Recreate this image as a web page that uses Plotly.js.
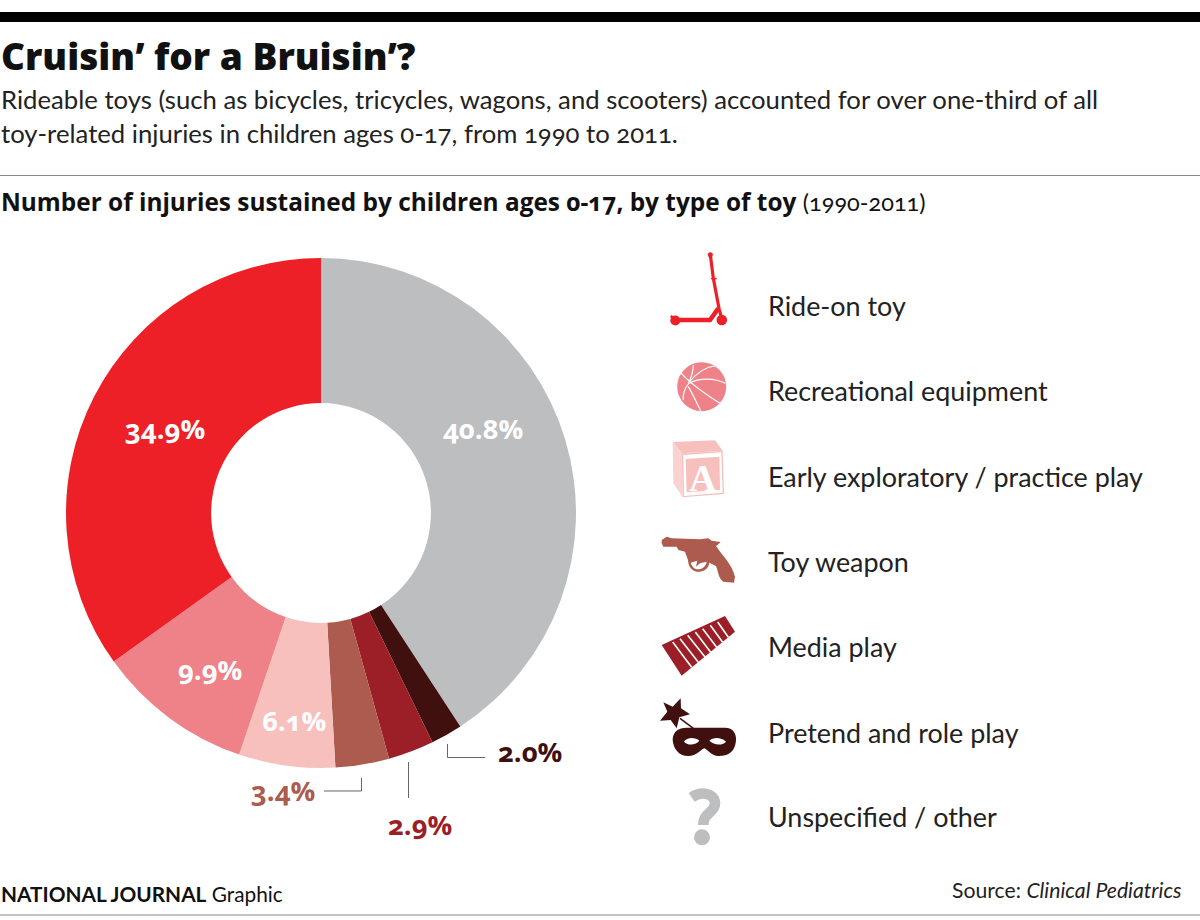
<!DOCTYPE html>
<html>
<head>
<meta charset="utf-8">
<script src="https://cdn.plot.ly/plotly-3.0.1.min.js"></script>
<style>
html,body{margin:0;padding:0;background:#fff}
.annotation-text{font-feature-settings:"onum" 1;font-variant-numeric:oldstyle-nums}
</style>
</head>
<body>
<div id="chart" style="width:1200px;height:920px"></div>
<script>
var categories = ["Ride-on toy","Recreational equipment","Early exploratory / practice play","Toy weapon","Media play","Pretend and role play","Unspecified / other"];
var shares = [34.9, 9.9, 6.1, 3.4, 2.9, 2.0, 40.8];
var sliceColors = ["#ED2028","#EF8288","#F7C0BD","#AD5B4E","#9C1F28","#40100F","#BCBEC0"];
var shareLabelColors = ["#ffffff","#ffffff","#ffffff","#AD5B4E","#9C1F28","#40100F","#ffffff"];
var shareLabelPx = [[165,429],[210,669],[294,720],[283,790],[420,824],[530,751],[483,428]];
var legendRowY = [305,390,476,561,646,732,816];

var FONT = "Lato, 'Open Sans', sans-serif";
var HEAVY = "'Open Sans', Lato, sans-serif";
function X(p){return p/1200;}
function Y(p){return 1-p/920;}
var PAIR=/(-?[\d.]+)[ ,](-?[\d.]+)/g;
function P(s){return s.replace(PAIR,function(m,a,b){return X(+a).toFixed(5)+","+Y(+b).toFixed(5);});}
function Z1(s){return s.replace(PAIR,function(m,a,b){return (650+a/3).toFixed(2)+","+(240+b/3).toFixed(2);});}
function Z2(s){return s.replace(PAIR,function(m,a,b){return (650+a/3).toFixed(2)+","+(530+b/3).toFixed(2);});}
function fill(d,c,extra){return Object.assign({type:"path",xref:"paper",yref:"paper",path:P(d),fillcolor:c,line:{width:0}},extra||{});}
function stroke(d,c,w){return {type:"path",xref:"paper",yref:"paper",path:P(d),line:{color:c,width:w}};}
function circle(cx,cy,r,c){return {type:"circle",xref:"paper",yref:"paper",x0:X(cx-r),x1:X(cx+r),y0:Y(cy+r),y1:Y(cy-r),fillcolor:c,line:{width:0}};}
function text(x,y,t,size,color,anchor,extra){return Object.assign({xref:"paper",yref:"paper",x:X(x),y:Y(y),text:t,showarrow:false,xanchor:anchor||"left",yanchor:"middle",align:anchor||"left",font:{family:FONT,size:size,color:color||"#111"},borderpad:0},extra||{});}

var shapes = [
  {type:"rect",xref:"paper",yref:"paper",x0:0,x1:1,y0:Y(22),y1:Y(12),fillcolor:"#000",line:{width:0}},
  stroke("M0,175.5 L1200,175.5","#888",1),
  stroke("M0,915 L1200,915","#888",1),
  // connectors
  stroke("M447.5,744 L447.5,757.5 L485,757.5","#666",1),
  stroke("M408.5,762 L408.5,798","#666",1),
  stroke("M361.5,778 L361.5,791 L324,791","#666",1),
  // scooter
  stroke(Z1("M181,44 L190,115 L207,205 L216,240"),"#ED2028",3.2),
  stroke(Z1("M183,116 L200,116"),"#ED2028",1.5),
  circle(710.3,254.7,2.5,"#ED2028"),
  stroke(Z1("M65,240 L180,240 L205,205"),"#ED2028",4.5),
  stroke(Z1("M62,228 L75,238"),"#ED2028",2.5),
  circle(675.3,320.5,5,"#ED2028"),
  circle(721.8,320,5.3,"#ED2028"),
  // ball
  circle(701.7,386.7,24.5,"#EF8288"),
  stroke(Z1("M92,398 C125,435 170,465 210,490"),"#fff",1.2),
  stroke(Z1("M130,375 C130,400 120,420 115,432 C105,445 98,465 100,480"),"#fff",1.2),
  stroke(Z1("M118,425 C145,395 170,380 195,378"),"#fff",1.2),
  stroke(Z1("M118,430 C150,412 195,415 226,430"),"#fff",1.2),
  stroke(Z1("M115,440 C130,465 140,490 152,512"),"#fff",1.2),
  // block
  fill(Z1("M68,606 L195,601 L218,632 L95,640 Z"),"#F7C0BD"),
  fill(Z1("M68,606 L95,640 L98,772 L70,730 Z"),"#F9D3D0"),
  fill(Z1("M95,640 L218,632 L222,762 L98,772 Z"),"#F7C0BD"),
  fill(Z1("M100,645 L214,637 L218,758 L102,768 Z"),"#ffffff"),
  fill(Z1("M107,657 L208,650 L210,750 L110,757 Z"),"#F7C0BD"),
  // gun
  fill(Z2("M35,30 L50,20 L65,25 L150,28 L175,25 L185,32 L212,36 L205,43 L198,48 C215,75 245,100 255,140 L252,158 L220,155 C205,145 205,125 198,108 L178,98 C175,120 155,127 140,125 C120,120 115,105 114,90 L105,65 L85,60 L80,50 L40,50 L35,40 Z"),"#AD5B4E"),
  fill(Z2("M122,98 L142,92 L138,110 L150,100 L170,95 C168,112 150,122 135,116 C128,112 124,105 122,98 Z"),"#ffffff"),
  // xylophone
  fill(Z2("M35,345 L225,258 L255,305 L95,437 Z"),"#9C1F28"),
  stroke(Z2("M68,336 L125,412"),"#fff",1.6),
  stroke(Z2("M90,326 L145,397"),"#fff",1.6),
  stroke(Z2("M113,316 L165,381"),"#fff",1.6),
  stroke(Z2("M136,306 L182,367"),"#fff",1.6),
  stroke(Z2("M158,296 L200,352"),"#fff",1.6),
  stroke(Z2("M181,286 L218,337"),"#fff",1.6),
  stroke(Z2("M203,276 L235,322"),"#fff",1.6),
  // star + wand + mask
  fill(Z2("M40,517 L68,530 L92,505 L93,535 L120,553 L88,562 L80,595 L62,570 L30,572 L52,545 Z"),"#40100F"),
  stroke(Z2("M90,565 L130,595"),"#40100F",1.5),
  fill(Z2("M68,630 C68,605 85,593 110,593 L225,593 C250,593 260,612 258,632 C255,665 235,678 205,678 C185,678 175,660 163,655 C150,660 140,678 115,678 C85,678 70,655 68,630 Z"),"#40100F"),
  fill(Z2("M102,635 C110,622 135,620 148,632 C140,645 112,648 102,635 Z"),"#ffffff"),
  fill(Z2("M178,632 C190,620 215,622 228,635 C218,648 190,645 178,632 Z"),"#ffffff"),
  // question mark
  stroke(Z2("M125,802 C155,782 195,790 195,820 C195,850 160,845 160,885"),"#BCBEC0",10.5),
  circle(702,837.3,8,"#BCBEC0")
];

var annotations = [
  text(0,55,"Cruisin’ for a Bruisin’?",37,"#111","left",{font:{family:HEAVY,size:37,color:"#111",weight:800}}),
  text(0,99.5,"Rideable toys (such as bicycles, tricycles, wagons, and scooters) accounted for over one-third of all",25.7,"#222"),
  text(0,133,"toy-related injuries in children ages 0-17, from 1990 to 2011.",25.7,"#222"),
  text(0,202,"Number of injuries sustained by children ages 0-17, by type of toy <span style=\"font-family:Lato;font-weight:400;font-size:23.5px\">(1990-2011)</span>",24.4,"#111","left",{font:{family:HEAVY,size:24.4,color:"#111",weight:700}}),
  text(0,893,"<b>NATIONAL JOURNAL</b> Graphic",20.8,"#111"),
  text(1183,890,"Source: <i>Clinical Pediatrics</i>",21.2,"#222","right"),
  text(702.5,478,"A",38,"#fff","center",{font:{family:"'Liberation Serif',serif",size:38,color:"#fff",weight:700}})
];
categories.forEach(function(c,i){
  annotations.push(text(766.5,legendRowY[i],c,26.9,"#222"));
  annotations.push(text(shareLabelPx[i][0],shareLabelPx[i][1],shares[i].toFixed(1)+"%",27.5,shareLabelColors[i],"center",{font:{family:HEAVY,size:27.5,color:shareLabelColors[i],weight:700}}));
});

// The pie starts at 12 o'clock and runs clockwise, so the order is the reverse of the legend.
var trace = {
  type:"pie",
  labels:categories.slice().reverse(),
  values:shares.slice().reverse(),
  sort:false,
  direction:"clockwise",
  rotation:0,
  hole:0.431,
  textinfo:"none",
  marker:{colors:sliceColors.slice().reverse(),line:{width:0}},
  domain:{x:[66/1200,576/1200],y:[1-768/920,1-258/920]},
  showlegend:false
};
Plotly.newPlot("chart",[trace],{
  width:1200,height:920,
  margin:{l:0,r:0,t:0,b:0},
  paper_bgcolor:"#fff",
  shapes:shapes,
  annotations:annotations,
  showlegend:false
},{displayModeBar:false});
</script>
</body>
</html>
